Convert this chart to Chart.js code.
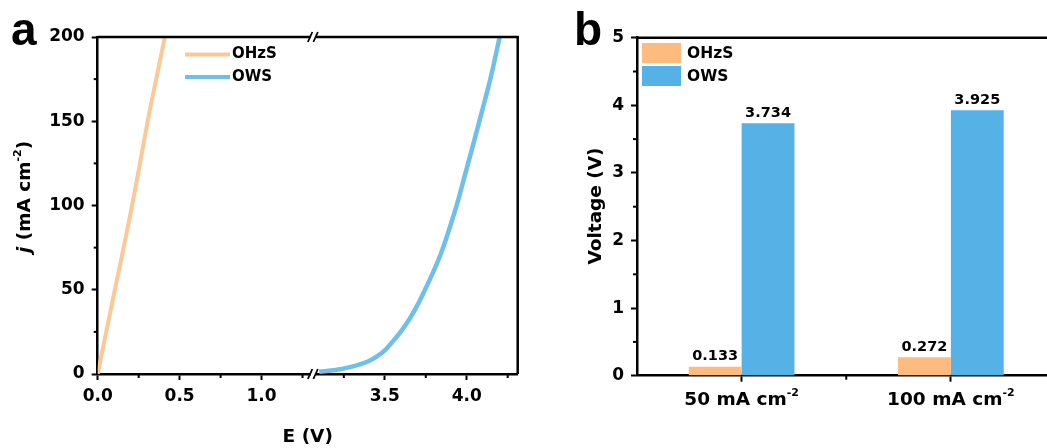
<!DOCTYPE html>
<html><head><meta charset="utf-8">
<script src="https://cdn.jsdelivr.net/npm/chart.js@4.4.1/dist/chart.umd.min.js"></script>
<style>
html,body{margin:0;padding:0;background:#fff;overflow:hidden;width:1047px;height:448px;position:relative;}
#wa{position:absolute;left:0;top:0;width:530px;height:448px;}
#wb{position:absolute;left:560px;top:0;width:500px;height:448px;}
canvas{display:block;}
</style></head><body>
<div id="wa"><canvas id="ca" width="530" height="448"></canvas></div>
<div id="wb"><canvas id="cb" width="500" height="448"></canvas></div>
<script>
// ---------- data ----------
const seriesNames = ['OHzS', 'OWS'];
// panel a: polarisation curves, E (V) vs j (mA cm-2)
const ohzsE = [0, 0.052, 0.105, 0.158, 0.210, 0.258, 0.305, 0.357, 0.41];
const ohzsJ = [0, 25, 50, 75, 100, 125, 150, 175, 200];
const owsE = [3.10, 3.20, 3.30, 3.40, 3.45, 3.50, 3.55, 3.60, 3.65, 3.70, 3.75, 3.80, 3.85, 3.90, 3.95, 4.00, 4.05, 4.10, 4.15, 4.20];
const owsJ = [1.3, 2.4, 4.4, 7.6, 10.3, 14.0, 19.5, 25.5, 32.5, 41, 51, 61.5, 73.5, 88, 104, 122, 140, 158.5, 177.5, 199.5];
const eTicks = [0.0, 0.5, 1.0, 3.5, 4.0];
const eMinorTicks = [0.25, 0.75, 1.25, 3.25, 3.75, 4.25];
const jMinorTicks = [25, 75, 125, 175];
// broken E axis: [0, LEFT_END] // [RIGHT_START, RIGHT_END]
const LEFT_END = 1.313, RIGHT_START = 3.061, RIGHT_END = 4.311;
// panel b: cell voltage at two current densities
const categories = ['50 mA cm', '100 mA cm'];
const catSup = ['-2', '-2'];
const ohzsVoltage = [0.133, 0.272];
const owsVoltage = [3.734, 3.925];
const vMinorTicks = [0.5, 1.5, 2.5, 3.5, 4.5];

// ---------- style ----------
const FAM = "'DejaVu Sans', sans-serif";
const orangeLine = '#FCC896', blueLine = '#6EBFEA';
const orangeBar = '#FDBB80', blueBar = '#56B1E6';
Chart.defaults.font.family = FAM;
Chart.defaults.font.weight = 'bold';
Chart.defaults.color = '#000';

const SHIFT = RIGHT_START - LEFT_END;
const toAxis = e => (e > LEFT_END ? e - SHIFT : e);
const fromAxis = v => (v > LEFT_END + 1e-9 ? v + SHIFT : v);

function rich(ctx, parts, x, y, rot) {
  ctx.save();
  ctx.translate(x, y);
  if (rot) ctx.rotate(rot);
  ctx.textBaseline = 'middle';
  ctx.textAlign = 'left';
  let w = 0;
  parts.forEach(p => { ctx.font = p.f; w += ctx.measureText(p.t).width; });
  let cx = -w / 2;
  parts.forEach(p => { ctx.font = p.f; ctx.fillStyle = '#000'; ctx.fillText(p.t, cx, p.dy || 0); cx += ctx.measureText(p.t).width; });
  ctx.restore();
}
function line(ctx, x1, y1, x2, y2, w) {
  ctx.beginPath(); ctx.lineWidth = w; ctx.strokeStyle = '#000';
  ctx.moveTo(x1, y1); ctx.lineTo(x2, y2); ctx.stroke();
}
const B = s => 'bold ' + s + 'px ' + FAM;

// ---------- panel a ----------
const decoA = {
  id: 'decoA',
  afterDraw(chart) {
    const ctx = chart.ctx, ca = chart.chartArea, xs = chart.scales.x, ys = chart.scales.y;
    ctx.save();
    ctx.lineCap = 'butt';
    // frame (top & right)
    line(ctx, ca.left, ca.top, ca.right + 1.25, ca.top, 2.5);
    line(ctx, ca.right, ca.top, ca.right, ca.bottom, 2.5);
    // minor ticks
    eMinorTicks.forEach(e => { const px = xs.getPixelForValue(toAxis(e)); line(ctx, px, ca.bottom, px, ca.bottom + 4, 2); });
    jMinorTicks.forEach(j => { const py = ys.getPixelForValue(j); line(ctx, ca.left - 4, py, ca.left, py, 2); });
    // break marks
    const bx = xs.getPixelForValue(LEFT_END);
    [ca.top, ca.bottom].forEach(yy => {
      ctx.fillStyle = '#fff';
      ctx.fillRect(bx - 2, yy - 2.5, 5, 5);
      line(ctx, bx - 5, yy + 5, bx - 0.5, yy - 5, 1.8);
      line(ctx, bx + 0.5, yy + 5, bx + 5, yy - 5, 1.8);
    });
    // legend
    const lg = [[orangeLine, 54.5], [blueLine, 77]];
    lg.forEach((l, i) => {
      ctx.beginPath(); ctx.strokeStyle = l[0]; ctx.lineWidth = 4;
      ctx.moveTo(185, l[1]); ctx.lineTo(230, l[1]); ctx.stroke();
      ctx.fillStyle = '#000'; ctx.font = B(15); ctx.textAlign = 'left'; ctx.textBaseline = 'middle';
      ctx.fillText(seriesNames[i], 232, l[1]);
    });
    // axis titles
    rich(ctx, [{t: 'E (V)', f: B(18.5)}], (ca.left + ca.right) / 2, 437, 0);
    rich(ctx, [
      {t: 'j', f: 'italic bold 18.5px ' + FAM},
      {t: ' (mA cm', f: B(18.5)},
      {t: '-2', f: B(11), dy: -7},
      {t: ')', f: B(18.5)}
    ], 25, 197, -Math.PI / 2);
    // panel letter
    ctx.fillStyle = '#000'; ctx.font = "bold 46px 'Liberation Sans', sans-serif";
    ctx.textAlign = 'left'; ctx.textBaseline = 'alphabetic';
    ctx.fillText('a', 11, 45);
    ctx.restore();
  }
};

new Chart(document.getElementById('ca'), {
  type: 'line',
  data: {
    datasets: [
      { label: seriesNames[0], data: ohzsE.map((e, i) => ({x: toAxis(e), y: ohzsJ[i]})),
        borderColor: orangeLine, borderWidth: 4, pointRadius: 0, cubicInterpolationMode: 'monotone', fill: false },
      { label: seriesNames[1], data: owsE.map((e, i) => ({x: toAxis(e), y: owsJ[i]})),
        borderColor: blueLine, borderWidth: 4.5, pointRadius: 0, cubicInterpolationMode: 'monotone', fill: false }
    ]
  },
  options: {
    responsive: false, animation: false, devicePixelRatio: 1,
    layout: { padding: { left: 0, right: 12.3, top: 37, bottom: 0 } },
    plugins: { legend: { display: false }, tooltip: { enabled: false } },
    scales: {
      x: {
        type: 'linear', min: 0, max: LEFT_END + (RIGHT_END - RIGHT_START),
        afterBuildTicks: s => { s.ticks = eTicks.map(e => ({value: toAxis(e)})); },
        afterFit: s => { s.height = 74; },
        ticks: { autoSkip: false, maxRotation: 0, padding: 6, font: { size: 17, weight: 'bold' }, color: '#000',
                 callback: v => fromAxis(v).toFixed(1) },
        grid: { drawOnChartArea: false, tickLength: 6, tickWidth: 2, tickColor: '#000' },
        border: { display: true, width: 2.5, color: '#000' }
      },
      y: {
        type: 'linear', min: 0, max: 200,
        afterFit: s => { s.width = 97.7; },
        ticks: { stepSize: 50, padding: 7, font: { size: 17, weight: 'bold' }, color: '#000' },
        grid: { drawOnChartArea: false, tickLength: 6, tickWidth: 2, tickColor: '#000' },
        border: { display: true, width: 2.5, color: '#000' }
      }
    }
  },
  plugins: [decoA]
});

// ---------- panel b ----------
const decoB = {
  id: 'decoB',
  afterDraw(chart) {
    const ctx = chart.ctx, ca = chart.chartArea, xs = chart.scales.x, ys = chart.scales.y;
    ctx.save();
    // top frame
    line(ctx, ca.left, ca.top, ca.right, ca.top, 2.5);
    line(ctx, ca.right, ca.top, ca.right, ca.bottom, 2.5);
    // minor ticks
    vMinorTicks.forEach(v => { const py = ys.getPixelForValue(v); line(ctx, ca.left - 4, py, ca.left, py, 2); });
    const mid = (xs.getPixelForTick(0) + xs.getPixelForTick(1)) / 2;
    line(ctx, mid, ca.bottom, mid, ca.bottom + 4, 2);
    // category labels with superscript
    categories.forEach((c, i) => {
      rich(ctx, [{t: c, f: B(18.5)}, {t: catSup[i], f: B(11), dy: -7}], xs.getPixelForTick(i), 400, 0);
    });
    // value labels
    chart.data.datasets.forEach((ds, di) => {
      chart.getDatasetMeta(di).data.forEach((bar, i) => {
        ctx.fillStyle = '#000'; ctx.font = B(14.5); ctx.textAlign = 'center'; ctx.textBaseline = 'middle';
        ctx.fillText(ds.data[i].toFixed(3), bar.x, bar.y - 10);
      });
    });
    // legend
    const lg = [[orangeBar, 43], [blueBar, 66]];
    lg.forEach((l, i) => {
      ctx.fillStyle = l[0]; ctx.fillRect(82, l[1], 39, 20);
      ctx.fillStyle = '#000'; ctx.font = B(15.5); ctx.textAlign = 'left'; ctx.textBaseline = 'middle';
      ctx.fillText(seriesNames[i], 127, l[1] + 10.5);
    });
    // y title
    rich(ctx, [{t: 'Voltage (V)', f: B(18.5)}], 36, 206, -Math.PI / 2);
    // panel letter
    ctx.fillStyle = '#000'; ctx.font = "bold 46px 'Liberation Sans', sans-serif";
    ctx.textAlign = 'left'; ctx.textBaseline = 'alphabetic';
    ctx.fillText('b', 14, 45);
    ctx.restore();
  }
};

new Chart(document.getElementById('cb'), {
  type: 'bar',
  data: {
    labels: categories,
    datasets: [
      { label: seriesNames[0], data: ohzsVoltage, backgroundColor: orangeBar, barPercentage: 1, categoryPercentage: 0.505 },
      { label: seriesNames[1], data: owsVoltage, backgroundColor: blueBar, barPercentage: 1, categoryPercentage: 0.505 }
    ]
  },
  options: {
    responsive: false, animation: false, devicePixelRatio: 1,
    layout: { padding: { left: 0, right: 4.5, top: 37.7, bottom: 0 } },
    plugins: { legend: { display: false }, tooltip: { enabled: false } },
    scales: {
      x: {
        afterFit: s => { s.height = 72.3; },
        ticks: { display: false },
        grid: { offset: false, drawOnChartArea: false, tickLength: 6, tickWidth: 2, tickColor: '#000' },
        border: { display: true, width: 2.5, color: '#000' }
      },
      y: {
        min: 0, max: 5,
        afterFit: s => { s.width = 77; },
        ticks: { stepSize: 1, padding: 7, font: { size: 17, weight: 'bold' }, color: '#000' },
        grid: { drawOnChartArea: false, tickLength: 6, tickWidth: 2, tickColor: '#000' },
        border: { display: true, width: 2.5, color: '#000' }
      }
    }
  },
  plugins: [decoB]
});
</script>
</body></html>
